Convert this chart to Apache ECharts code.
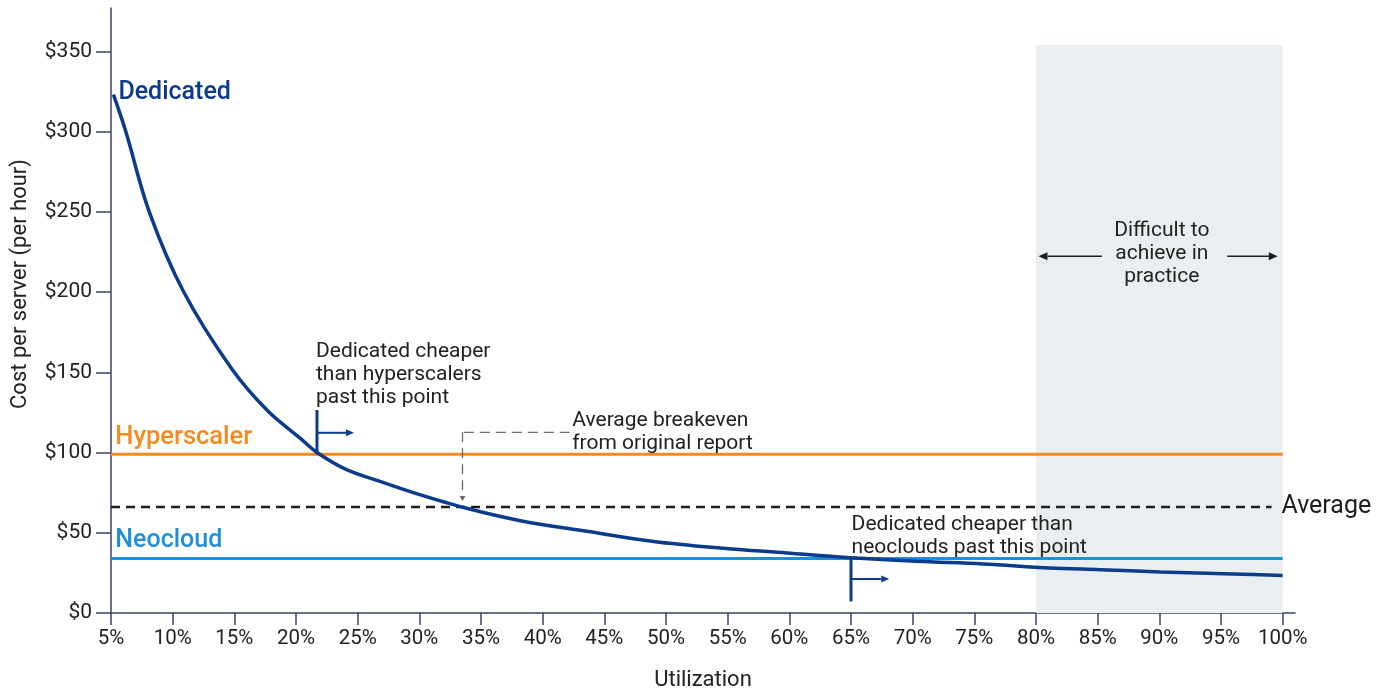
<!DOCTYPE html>
<html>
<head>
<meta charset="utf-8">
<script src="https://cdn.jsdelivr.net/npm/echarts@6/dist/echarts.min.js"></script>
<style>
html,body{margin:0;padding:0;background:#fff;}
#c{width:1389px;height:690px;}
</style>
</head>
<body>
<div id="c"></div>
<script>
// ---- data ----
const xTicks = [5,10,15,20,25,30,35,40,45,50,55,60,65,70,75,80,85,90,95,100];
const yTicks = [0,50,100,150,200,250,300,350];
const utilization   = [5.2, 6.2, 8.1, 10.9, 14.8, 17.7, 20.4, 21.7, 24.1, 26.8, 29.5, 33.6, 38.2, 43.6, 49, 54.4, 59.8, 64.7, 70.3, 75.7, 81.1, 85.2, 90.1, 96, 100];
const dedicatedCost = [323, 300, 250, 200, 152, 126, 108.5, 100, 89.3, 82, 75, 65.7, 57.5, 50.9, 44.6, 40.5, 37.4, 34.6, 32.2, 30.6, 28.1, 27, 25.6, 24.3, 23.3];
const hyperscalerCost = 99;
const neocloudCost = 34;
const averageCost = 66;
const lineStart = 5, lineEnd = 100, averageEnd = 99.1;
const bandFrom = 80, bandTo = 100, bandTop = 354;
const hyperBreakeven = 21.7;
const neoBreakeven = 65;
const avgBreakeven = 33.5;

const FONT = 'Roboto, "Noto Sans", sans-serif';
const NAVY = '#0b3c8c', ORANGE = '#f68a1e', BLUE = '#1f8fd9', INK = '#1e1e1e', AXIS = '#3b4460';

const chart = echarts.init(document.getElementById('c'), null, {renderer:'canvas'});

const dedicatedData = utilization.map((u,i)=>[u, dedicatedCost[i]]);

chart.setOption({
  animation:false,
  backgroundColor:'#ffffff',
  textStyle:{fontFamily:FONT},
  grid:{left:111, right:94, top:8, bottom:77, containLabel:false, outerBoundsMode:'none'},
  xAxis:{
    type:'value', min:5, max:101, interval:5,
    axisLine:{lineStyle:{color:AXIS, width:1.5}},
    axisTick:{customValues:xTicks, length:12, lineStyle:{color:AXIS, width:1.5}},
    axisLabel:{customValues:xTicks, formatter:v=>v+'%', margin:15, fontSize:20.5, color:'#222', fontFamily:FONT},
    splitLine:{show:false},
    name:'Utilization', nameLocation:'middle', nameGap:56,
    nameTextStyle:{fontSize:22, color:'#222', fontFamily:FONT}
  },
  yAxis:{
    type:'value', min:0, max:377, interval:50,
    axisLine:{show:true, lineStyle:{color:AXIS, width:1.5}},
    axisTick:{show:true, customValues:yTicks, length:15, lineStyle:{color:AXIS, width:1.5}},
    axisLabel:{customValues:yTicks, formatter:v=>'$'+v, margin:19, fontSize:21, color:'#222', fontFamily:FONT},
    splitLine:{show:false}
  },
  series:[
    {
      name:'band', type:'line', z:1, data:[], silent:true,
      markArea:{silent:true, itemStyle:{color:'#e9eff0'},
        data:[[{xAxis:bandFrom, yAxis:0},{xAxis:bandTo, yAxis:bandTop}]]}
    },
    {
      name:'Hyperscaler', type:'line', z:3, showSymbol:false, symbol:'none',
      data:[[lineStart,hyperscalerCost],[lineEnd,hyperscalerCost]],
      lineStyle:{color:ORANGE, width:3}
    },
    {
      name:'Neocloud', type:'line', z:3, showSymbol:false, symbol:'none',
      data:[[lineStart,neocloudCost],[lineEnd,neocloudCost]],
      lineStyle:{color:BLUE, width:3}
    },
    {
      name:'Average', type:'line', z:3, showSymbol:false, symbol:'none',
      data:[[lineStart,averageCost],[averageEnd,averageCost]],
      lineStyle:{color:INK, width:2.5, type:[9,6]}
    },
    {
      name:'Dedicated', type:'line', z:5, showSymbol:false, symbol:'none',
      smooth:0.35,
      data:dedicatedData,
      lineStyle:{color:NAVY, width:3.5}
    }
  ]
});

// ---- annotations, positioned through the chart's own scales ----
const P = (u,v)=>chart.convertToPixel({gridIndex:0},[u,v]);
const g = [];
function text(u, v, str, opt){
  const p = P(u,v);
  g.push({type:'text', x:p[0], y:p[1], z:20, silent:true,
    style:Object.assign({text:str, fill:'#222', fontSize:21, fontFamily:FONT,
      textAlign:'left', textVerticalAlign:'middle'}, opt||{})});
}
function block(u, vFirstCenter, str, align){
  const p = P(u, vFirstCenter);
  g.push({type:'text', x:p[0], y:p[1]-11.5, z:20, silent:true,
    style:{text:str, fill:'#222', fontSize:21, fontFamily:FONT, lineHeight:23,
      textAlign:align||'left', textVerticalAlign:'top'}});
}
function seg(a, b, color, width, dash){
  g.push({type:'line', z:15, silent:true, shape:{x1:a[0],y1:a[1],x2:b[0],y2:b[1]},
    style:{stroke:color, lineWidth:width, lineDash:dash||null}});
}
function arrow(a, b, color, width, head, halfW, dash){
  const dx=b[0]-a[0], dy=b[1]-a[1], L=Math.hypot(dx,dy), ux=dx/L, uy=dy/L;
  const base=[b[0]-ux*head, b[1]-uy*head];
  const nx=-uy, ny=ux;
  seg(a, base, color, width, dash);
  g.push({type:'polygon', z:16, silent:true,
    shape:{points:[b,[base[0]+nx*halfW, base[1]+ny*halfW],[base[0]-nx*halfW, base[1]-ny*halfW]]},
    style:{fill:color}});
}

// y axis title (rotated)
g.push({type:'text', x:20, y:P(5,205)[1], rotation:Math.PI/2, silent:true,
  style:{text:'Cost per server (per hour)', fill:'#222', fontSize:22, fontFamily:FONT,
    textAlign:'center', textVerticalAlign:'middle'}});

// series labels
text(5.6, 324, 'Dedicated', {fill:NAVY, fontSize:25, fontWeight:500});
text(5.35, 109.5, 'Hyperscaler', {fill:ORANGE, fontSize:25.5, fontWeight:500});
text(5.35, 44.8, 'Neocloud', {fill:BLUE, fontSize:25, fontWeight:500});
text(99.9, averageCost+0.3, 'Average', {fill:INK, fontSize:25});

// hyperscaler breakeven marker
seg(P(hyperBreakeven, hyperscalerCost), P(hyperBreakeven, 126.5), NAVY, 3);
arrow(P(hyperBreakeven, 112.3), P(24.7, 112.3), NAVY, 2, 8, 3.5);
block(21.62, 163.1, 'Dedicated cheaper\nthan hyperscalers\npast this point');

// neocloud breakeven marker
seg(P(neoBreakeven, neocloudCost), P(neoBreakeven, 7.2), NAVY, 3);
arrow(P(neoBreakeven, 21.2), P(68.1, 21.2), NAVY, 2, 8, 3.5);
block(65.05, 55, 'Dedicated cheaper than\nneoclouds past this point');

// average breakeven leader
seg(P(42.2, 112.6), P(avgBreakeven, 112.6), '#6a6a6a', 1.3, [10,6]);
arrow(P(avgBreakeven, 112.6), P(avgBreakeven, 69.8), '#6a6a6a', 1.3, 5, 3, [10,6]);
block(42.4, 120, 'Average breakeven\nfrom original report');

// band text and arrows
block(90.2, 238.3, 'Difficult to\nachieve in\npractice', 'center');
arrow(P(85.35, 222.3), P(80.2, 222.3), INK, 1.5, 9, 4);
arrow(P(95.5, 222.3), P(99.6, 222.3), INK, 1.5, 9, 4);

chart.setOption({graphic:{elements:g}});
</script>
</body>
</html>
